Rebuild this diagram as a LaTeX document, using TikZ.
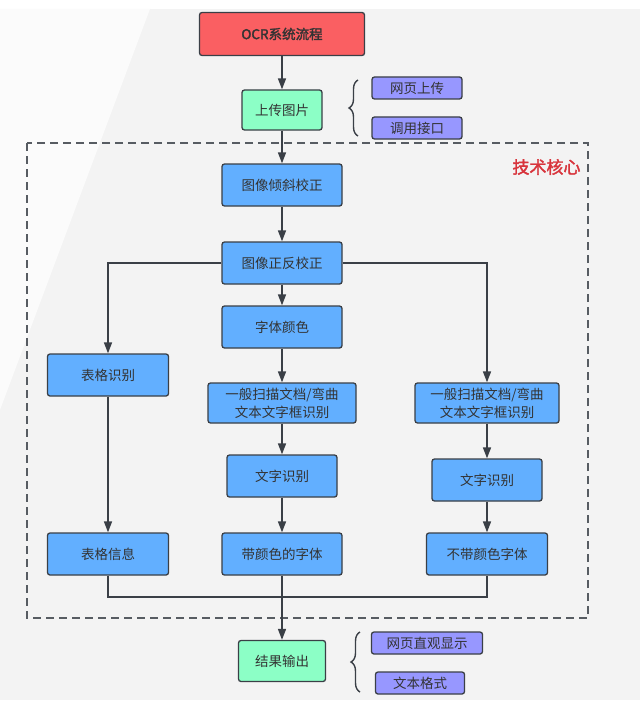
\documentclass[tikz,border=0pt]{standalone}
\usepackage{fontspec}
\setmainfont[AutoFakeBold=2]{Noto Sans CJK SC}
\usepackage{xcolor}
\usetikzlibrary{arrows.meta,positioning,decorations.pathreplacing}
\definecolor{bggray}{HTML}{F3F3F3}
\definecolor{bglight}{HTML}{FBFBFB}
\definecolor{procblue}{HTML}{62AFFF}
\definecolor{iogreen}{HTML}{8CFFC6}
\definecolor{titlered}{HTML}{FA5F62}
\definecolor{optpurple}{HTML}{9797FF}
\definecolor{edgegray}{HTML}{3A3F46}
\definecolor{textgray}{HTML}{333333}
\definecolor{corered}{HTML}{D8343C}

\begin{document}
\begin{tikzpicture}[x=1pt, y=-1pt,
  box/.style={draw=edgegray, line width=1.3pt, rounded corners=2.5pt, align=center, inner sep=1pt,
    text=textgray, font=\fontsize{13.5}{18}\selectfont},
  proc/.style={box, fill=procblue, minimum width=120pt, minimum height=42pt},
  io/.style={box, fill=iogreen, minimum width=80pt, minimum height=40pt},
  title/.style={box, fill=titlered, minimum width=165pt, minimum height=43pt, font=\fontsize{13.5}{18}\selectfont\bfseries},
  opt/.style={box, fill=optpurple, minimum width=90pt, minimum height=22pt},
  brace/.style={decorate, decoration={brace, amplitude=9pt}, draw=edgegray, line width=1.4pt},
  flow/.style={draw=edgegray, line width=1.6pt},
  >={Triangle[length=11pt, width=8pt]}
]
% background with a lighter wedge on the left
\fill[white] (0,0) rectangle (640,706);
\fill[bggray] (0,9) rectangle (640,700);
\fill[bglight] (0,9) -- (150,9) -- (0,410) -- cycle;

% technical core frame
\draw[edgegray!85, line width=1.5pt, dash pattern=on 8pt off 5pt] (27,143) rectangle (588,618);
\node[font=\fontsize{17}{17}\selectfont\bfseries, text=corered, anchor=east] (core) at (584,167) {技术核心};

% top: title and upload
\node[title] (ocr)    at (282,34)  {OCR系统流程};
\node[io]    (upload) at (282,110) {上传图片};
\node[opt]   (web)    at (417,88)  {网页上传};
\node[opt]   (api)    at (417,128) {调用接口};

% core steps
\node[proc] (skew)  at (282,185) {图像倾斜校正};
\node[proc] (flip)  at (282,263) {图像正反校正};
\node[proc] (color) at (282,327) {字体颜色};
\node[proc, minimum width=121pt] (table) at (108,375) {表格识别};
\node[proc, minimum width=148pt, minimum height=40pt] (boxm) at (282,403) {一般扫描文档/弯曲\\文本文字框识别};
\node[proc, minimum width=144pt, minimum height=40pt] (boxr) at (487,403) {一般扫描文档/弯曲\\文本文字框识别};
\node[proc, minimum width=110pt] (textm) at (282,476) {文字识别};
\node[proc, minimum width=110pt] (textr) at (487,480) {文字识别};
\node[proc, minimum width=121pt] (tinfo)   at (108,554) {表格信息};
\node[proc] (colored) at (282,554) {带颜色的字体};
\node[proc, minimum width=121pt] (plain)   at (487,554) {不带颜色字体};

% output
\node[io, minimum width=87pt, minimum height=41pt] (result) at (282,661) {结果输出};
\node[opt, minimum width=111pt] (webview) at (427,643) {网页直观显示};
\node[opt, minimum width=89pt]  (fmt)     at (420,683) {文本格式};

% connectors
\draw[flow, ->] (ocr) -- (upload);
\draw[flow, ->] (upload) -- (skew);
\draw[flow, ->] (skew) -- (flip);
\draw[flow, ->] (flip) -- (color);
\draw[flow, ->] (color) -- (boxm);
\draw[flow, ->] (boxm) -- (textm);
\draw[flow, ->] (textm) -- (colored);
\draw[flow, ->] (flip.west) -| (table.north);
\draw[flow, ->] (flip.east) -| (boxr.north);
\draw[flow, ->] (boxr) -- (textr);
\draw[flow, ->] (textr) -- (plain);
\draw[flow, ->] (table) -- (tinfo);
\coordinate (merge) at (282,597);
\draw[flow] (tinfo.south) |- (merge) -| (plain.south);
\draw[flow, ->] (colored) -- (result);

% braces
\draw[brace] (358,136) -- (358,80);
\draw[brace] (360,692) -- (360,632);
\end{tikzpicture}
\end{document}
